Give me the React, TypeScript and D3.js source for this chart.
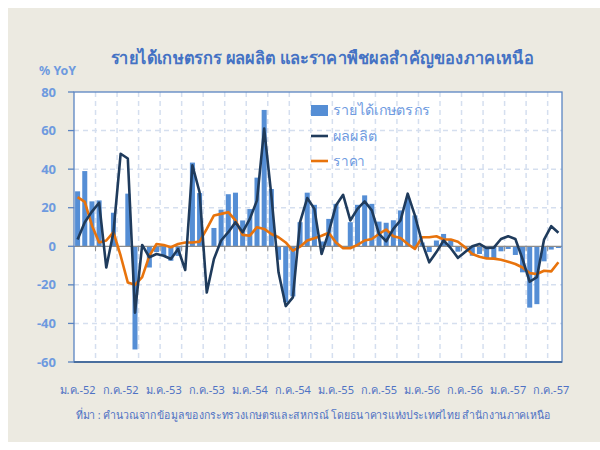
import React from "react";
import * as d3 from "d3";

// ---- data (monthly, Jan 2009 (ม.ค.-52) .. Aug 2014) ----
const YEARS_BE = [52, 53, 54, 55, 56, 57];
const MONTH_COUNT = 68;
const months: string[] = [];
for (let i = 0; i < MONTH_COUNT; i++) months.push(`${YEARS_BE[Math.floor(i / 12)]}-${(i % 12) + 1}`);

// รายได้เกษตรกร (bars) — null where no bar is visible
const income: (number | null)[] = [
  28.5, 39, 23.3, 23.8, null, 17.4, null, 27.3, -53.5, null, -11, -3,
  -5, -7.5, -5, null, 43.4, 27.6, null, 9.5, 19, 27, 27.8, 13.4,
  19.3, 35.6, 70.7, 29.7, -7, -29, -26, 12.5, 27.8, 21.5, 2.5, 14.2,
  22, null, 12.5, 21.5, 26.4, 22, 12.8, 12.2, 13.5, 18.6, 25, 16,
  2, -3, 3, 6.4, 3.5, -2.8, -1, -4.9, -4, -6.6, -6.6, -2.6,
  -1.4, -4.5, -13.5, -31.8, -30, -7.8, -1.7, -0.9,
];
// ผลผลิต (navy line)
const production: number[] = [
  3.5, 12.5, 18, 22.6, -11, 7.3, 48, 45.5, -34.4, 0.7, -5.7, -4,
  -4.9, -6.6, -1.4, -12.3, 42, 28, -24, -6.6, 3, 7.3, 12.5, 7.3,
  14.2, 23.8, 61, 26.4, -13.5, -31, -26.5, 12.5, 25, 19.4, -4, 7.3,
  21.2, 26.7, 13.4, 19.4, 23.3, 18.6, 6.4, 2.6, 9, 13.4, 27.3, 16,
  2, -8.3, -3, 3, -1, -6, -3, 0, 1.2, -0.9, -0.7, 3.8,
  5.2, 3.8, -6.6, -18.4, -16, 3.5, 10.4, 7,
];
// ราคา (orange line)
const price: number[] = [
  25.5, 23, 10.8, 2, 3, 7.3, -4.9, -18.8, -20, -16, -5, 1.2,
  0.7, -0.5, 1.2, 2, 2, 2.4, 9, 16, 16.8, 17.7, 13.4, 5.9,
  5.5, 9.9, 9, 6.4, 4.7, 2, -2.3, -0.2, 3, 4.2, 5.5, 7,
  2, -1, -1, 0.7, 3, 3.8, 6.4, 8.7, 5.2, 4.3, 1.2, -1.4,
  4.7, 4.7, 5.2, 3.5, 3.5, 2.4, -0.5, -4, -5.4, -6.3, -6.4, -7,
  -8, -9.2, -11, -13.9, -14.4, -12.7, -13, -8.3,
];
// tick labels every 6 months (Jan / Jul)
const xTickLabels = [
  "ม.ค.-52", "ก.ค.-52", "ม.ค.-53", "ก.ค.-53", "ม.ค.-54", "ก.ค.-54",
  "ม.ค.-55", "ก.ค.-55", "ม.ค.-56", "ก.ค.-56", "ม.ค.-57", "ก.ค.-57",
];
const yTicks = [80, 60, 40, 20, 0, -20, -40, -60];
const seriesNames = ["รายได้เกษตรกร", "ผลผลิต", "ราคา"];
const titleText = "รายได้เกษตรกร ผลผลิต และราคาพืชผลสำคัญของภาคเหนือ";
const unitText = "% YoY";
const sourceText = "ที่มา : คำนวณจากข้อมูลของกระทรวงเกษตรและสหกรณ์ โดยธนาคารแห่งประเทศไทย สำนักงานภาคเหนือ";

// ---- style ----
const FONT = "'Noto Sans', 'DejaVu Sans', sans-serif";
const BG = "#ECEAE1";
const BAR = "#558ED5";
const NAVY = "#1F3B5C";
const ORANGE = "#E8730C";
const LIGHTBLUE = "#6E9ADF";
const AXIS = "#5A84C2";
const GRID = "#D5DFEF";

export default function App() {
  const L = 74, R = 562, T = 92, B = 362;
  const x = d3.scaleBand<number>().domain(d3.range(MONTH_COUNT)).range([L, R]).paddingInner(0.3).paddingOuter(0.15);
  const cx = (i: number) => (x(i) as number) + x.bandwidth() / 2;
  const y = d3.scaleLinear().domain([-60, 80]).range([B, T]);

  const lineGen = d3.line<number>().x((_, i) => cx(i)).y((d) => y(d));
  const gridX = d3.range(3, MONTH_COUNT, 3).map((k) => L + ((R - L) / MONTH_COUNT) * k);

  const legendY = [110.5, 136, 161];
  const legendLen = [97, 44, 32];

  return (
    <svg width={600} height={450} style={{ position: "absolute", left: 0, top: 0 }} fontFamily={FONT}>
      <rect x={0} y={0} width={600} height={450} fill="#fff" />
      <rect x={8} y={8} width={592} height={434} fill={BG} />
      <text x={111} y={64} fontSize={17.5} fontWeight="bold" fill="#4472C4" textLength={423} lengthAdjust="spacingAndGlyphs">{titleText}</text>
      <text x={39} y={75} fontSize={13} fontWeight="bold" fill={LIGHTBLUE} textLength={37} lengthAdjust="spacingAndGlyphs">{unitText}</text>

      <rect x={L} y={T} width={R - L} height={B - T} fill="#fff" />
      {/* grid */}
      {yTicks.filter((v) => v !== 80 && v !== -60 && v !== 0).map((v) => (
        <line key={"gy" + v} x1={L} x2={R} y1={y(v)} y2={y(v)} stroke={GRID} strokeWidth={1.5} strokeDasharray="5,4" />
      ))}
      {gridX.map((gx, k) => (
        <line key={"gx" + k} x1={gx} x2={gx} y1={T} y2={B} stroke={GRID} strokeWidth={1.5} strokeDasharray="5,4" />
      ))}

      {/* bars */}
      {income.map((v, i) =>
        v === null ? null : (
          <rect key={"b" + i} x={x(i)} width={x.bandwidth()} y={y(Math.max(0, v))} height={Math.abs(y(v) - y(0))} fill={BAR} />
        )
      )}

      {/* zero line with ticks */}
      <line x1={L} x2={R} y1={y(0)} y2={y(0)} stroke="#8C8C8C" strokeWidth={1.2} />
      {gridX.map((gx, k) => (
        <line key={"zt" + k} x1={gx} x2={gx} y1={y(0)} y2={y(0) + 5} stroke="#8C8C8C" strokeWidth={1} />
      ))}

      {/* lines */}
      <path d={lineGen(price) || ""} fill="none" stroke={ORANGE} strokeWidth={2.6} strokeLinejoin="round" />
      <path d={lineGen(production) || ""} fill="none" stroke={NAVY} strokeWidth={2.6} strokeLinejoin="round" />

      {/* plot border */}
      <rect x={L} y={T} width={R - L} height={B - T} fill="none" stroke={AXIS} strokeWidth={1.3} />
      <line x1={L} x2={R} y1={B} y2={B} stroke="#4A6F9E" strokeWidth={1.8} />
      {/* y axis ticks and labels */}
      {yTicks.map((v) => (
        <g key={"yt" + v}>
          <line x1={L - 6} x2={L} y1={y(v)} y2={y(v)} stroke={AXIS} strokeWidth={1.3} />
          <text x={56} y={y(v)} dy="0.35em" textAnchor="end" fontSize={13} fontWeight="bold" fill={LIGHTBLUE}>{v}</text>
        </g>
      ))}

      {/* x labels (centred on Jan / Jul months) */}
      {xTickLabels.map((t, k) => (
        <text key={t} x={cx(k * 6) - 18} y={394} fontSize={11} fill="#4F72C4" textLength={36} lengthAdjust="spacingAndGlyphs">{t}</text>
      ))}
      <text x={76} y={419} fontSize={11} fill="#4F72C4" textLength={475} lengthAdjust="spacingAndGlyphs">{sourceText}</text>

      {/* legend */}
      <rect x={311} y={legendY[0] - 5.5} width={17} height={11} fill={BAR} />
      <line x1={311} x2={328} y1={legendY[1]} y2={legendY[1]} stroke={NAVY} strokeWidth={2.6} />
      <line x1={311} x2={328} y1={legendY[2]} y2={legendY[2]} stroke={ORANGE} strokeWidth={2.6} />
      {seriesNames.map((n, k) => (
        <text key={n} x={333} y={legendY[k]} dy="0.35em" fontSize={14} fill={LIGHTBLUE} textLength={legendLen[k]} lengthAdjust="spacingAndGlyphs">{n}</text>
      ))}
    </svg>
  );
}
